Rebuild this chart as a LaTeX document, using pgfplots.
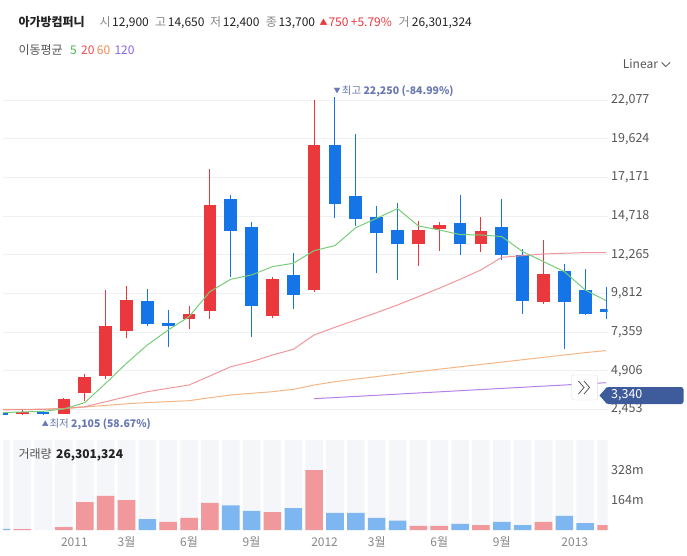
\documentclass[border=0pt]{standalone}
\usepackage{pgfplots}
\pgfplotsset{compat=1.18}
\usepackage{pgfplotstable}
\usepackage{fontspec}
\setmainfont{Noto Sans CJK KR}
\definecolor{cred}{RGB}{235,56,61}
\definecolor{cblue}{RGB}{22,117,230}
\definecolor{vred}{RGB}{240,152,156}
\definecolor{vblue}{RGB}{125,182,240}
\definecolor{stripe}{RGB}{245,246,250}
\definecolor{gridc}{RGB}{240,240,242}
\definecolor{tickc}{RGB}{85,85,85}
\definecolor{labc}{RGB}{136,136,136}
\definecolor{numc}{RGB}{34,34,34}
\definecolor{annc}{RGB}{105,120,178}
\definecolor{tagc}{RGB}{62,91,156}
\definecolor{boxc}{RGB}{220,220,224}
\definecolor{ma5}{RGB}{120,205,120}
\definecolor{ma20}{RGB}{240,140,145}
\definecolor{ma60}{RGB}{245,175,120}
\definecolor{ma120}{RGB}{180,130,235}
\definecolor{t5}{RGB}{80,180,80}
\definecolor{t20}{RGB}{230,80,80}
\definecolor{t60}{RGB}{240,140,80}
\definecolor{t120}{RGB}{140,100,230}

% up (red) candles: x open high low close
\pgfplotstableread{
x o h l c
1 2136 2410 2120 2300
3 2180 3150 2170 3110
4 3510 4700 2980 4505
5 4590 10006 4400 7743
6 7447 10282 6960 9393
9 8208 9013 7531 8505
10 8674 17688 8187 15424
13 8399 10875 8272 10726
15 10028 22089 9922 19232
20 12970 14387 11573 13837
21 13900 14324 12525 14154
23 12970 14683 12440 13773
26 9266 13202 9161 11044
}\upc
% down (blue) candles
\pgfplotstableread{
x o h l c
0 2240 2260 2100 2110
2 2300 2330 2105 2160
7 9330 10071 7722 7870
8 7933 8758 6431 7764
11 15805 16059 10875 13794
12 14028 14324 7024 9034
14 10980 12377 8822 9732
16 19232 22250 14577 15508
17 15995 19931 14091 14556
18 14662 15381 11086 13667
19 13837 15530 10663 12970
22 14281 16038 12271 12970
24 14028 15805 11933 12271
25 12229 12610 8526 9351
27 11234 11678 6304 9288
28 10028 11382 8441 8526
29 8843 10219 8166 8653
}\downc
% moving averages
\pgfplotstableread{
x ma5 ma20 ma60
0 2241 2420 2440
1 2284 2430 2450
2 2326 2450 2460
3 2474 2500 2500
4 2876 2618 2600
5 4104 2935 2700
6 5373 3253 2800
7 6537 3570 2880
8 7489 3786 2940
9 8335 3995 2999
10 9922 4567 3189
11 10705 5157 3361
12 10980 5474 3469
13 11509 5899 3570
14 11721 6261 3722
15 12525 7169 3995
16 12842 7658 4205
17 13985 8124 4370
18 14577 8589 4530
19 15191 9076 4690
20 14091 9605 4850
21 13837 10134 5000
22 13541 10705 5150
23 13520 11297 5300
24 13414 12102 5450
25 12461 12207 5600
26 11827 12313 5750
27 11192 12356 5900
28 10028 12398 6050
29 9351 12398 6180
}\mat
\pgfplotstableread{
x ma120
15 3126
16 3199
17 3271
18 3344
19 3416
20 3489
21 3561
22 3634
23 3706
24 3779
25 3851
26 3924
27 3996
28 4069
29 4141
}\matl
% volume (millions)
\pgfplotstableread{
x v
1 5
3 16
4 153
5 186
6 164
8 44
9 66
10 148
13 98
15 328
20 22
21 22
23 27
26 44
29 27
}\vup
\pgfplotstableread{
x v
0 6
7 60
11 135
12 104
14 120
16 93
17 93
18 66
19 51
22 33
24 44
25 27
27 77
28 38
}\vdown
\pgfplotstableread{
x v
0 492
1 492
2 492
3 492
4 492
5 492
6 492
7 492
8 492
9 492
10 492
11 492
12 492
13 492
14 492
15 492
16 492
17 492
18 492
19 492
20 492
21 492
22 492
23 492
24 492
25 492
26 492
27 492
28 492
29 492
}\vbg

\newcommand{\tf}{\fontsize{12.5}{14}\selectfont}
\newcommand{\hf}{\fontsize{12}{14}\selectfont}

\begin{document}
\begin{tikzpicture}[x=1pt,y=1pt]
\path[use as bounding box, fill=white] (0,0) rectangle (687,555);

% price panel
\begin{axis}[
  at={(3pt,125pt)}, anchor=south west,
  scale only axis, width=604.5pt, height=350pt,
  xmin=0.077, xmax=29.07, ymin=1139, ymax=23354,
  axis line style={draw=none}, tick style={draw=none},
  xtick=\empty,
  ytick={2453,4906,7359,9812,12265,14718,17171,19624,22077},
  ymajorgrids, grid style={draw=gridc, line width=0.8pt},
  yticklabel pos=right,
  scaled y ticks=false,
  yticklabel style={anchor=west, inner sep=0pt, xshift=3.5pt, font=\tf, text=tickc},
  /pgf/number format/fixed, /pgf/number format/precision=0,
  /pgf/number format/1000 sep={,}, /pgf/number format/assume math mode=true,
]
% wicks and bodies
\addplot[draw=none, mark=none, error bars/.cd, y dir=plus, y explicit, error mark=none,
  error bar style={line width=1pt, draw=cred}]
  table[x=x, y=l, y error expr=\thisrow{h}-\thisrow{l}] {\upc};
\addplot[draw=none, mark=none, error bars/.cd, y dir=plus, y explicit, error mark=none,
  error bar style={line width=12.7pt, draw=cred}]
  table[x=x, y=o, y error expr=\thisrow{c}-\thisrow{o}] {\upc};
\addplot[draw=none, mark=none, error bars/.cd, y dir=plus, y explicit, error mark=none,
  error bar style={line width=1pt, draw=cblue}]
  table[x=x, y=l, y error expr=\thisrow{h}-\thisrow{l}] {\downc};
\addplot[draw=none, mark=none, error bars/.cd, y dir=plus, y explicit, error mark=none,
  error bar style={line width=12.7pt, draw=cblue}]
  table[x=x, y=c, y error expr=\thisrow{o}-\thisrow{c}] {\downc};
% moving averages
\addplot[ma120, line width=1pt, mark=none] table[x=x, y=ma120] {\matl};
\addplot[ma60, line width=1pt, mark=none, opacity=0.9] table[x=x, y=ma60] {\mat};
\addplot[ma20, line width=1pt, mark=none, opacity=0.9] table[x=x, y=ma20] {\mat};
\addplot[ma5, line width=1pt, mark=none] table[x=x, y=ma5] {\mat};
\end{axis}

% volume panel
\begin{axis}[
  at={(3pt,25pt)}, anchor=south west,
  scale only axis, width=604.5pt, height=90pt,
  xmin=0.077, xmax=29.07, ymin=0, ymax=492,
  axis line style={draw=none}, tick style={draw=none},
  xtick={3.5,6,9,12,15.5,18,21,24,27.5},
  xticklabels={2011,3월,6월,9월,2012,3월,6월,9월,2013},
  xticklabel style={anchor=base, inner sep=0pt, yshift=-16.5pt, font=\hf, text=labc},
  ytick={164,328}, yticklabels={164m,328m},
  yticklabel pos=right,
  yticklabel style={anchor=west, inner sep=0pt, xshift=3.5pt, font=\tf, text=tickc},
]
\addplot[ybar, bar width=0.84, bar shift=0pt, fill=stripe, draw=none] table[x=x, y=v] {\vbg};
\addplot[ybar, bar width=0.84, bar shift=0pt, fill=vred, draw=none] table[x=x, y=v] {\vup};
\addplot[ybar, bar width=0.84, bar shift=0pt, fill=vblue, draw=none] table[x=x, y=v] {\vdown};
\end{axis}

% header line 1
\begin{scope}[every node/.style={anchor=base west, inner sep=0pt, font=\hf}]
\node[text=numc, font=\hf\bfseries] at (18.3,528.3) {아가방컴퍼니};
\node[text=labc] at (99.3,528.3) {시};
\node[text=numc] at (112,528.3) {12,900};
\node[text=labc] at (155,528.3) {고};
\node[text=numc] at (167.7,528.3) {14,650};
\node[text=labc] at (210,528.3) {저};
\node[text=numc] at (222.7,528.3) {12,400};
\node[text=labc] at (265.7,528.3) {종};
\node[text=numc] at (278.3,528.3) {13,700};
\node[text=cred, font=\fontsize{8}{9}\selectfont] at (319.3,529.5) {▲};
\node[text=cred] at (328.3,528.3) {750};
\node[text=cred] at (350.7,528.3) {+5.79\%};
\node[text=labc] at (398.3,528.3) {거};
\node[text=numc] at (411.7,528.3) {26,301,324};
% line 2
\node[text=tickc] at (18.3,500) {이동평균};
\node[text=t5] at (70,500) {5};
\node[text=t20] at (81,500) {20};
\node[text=t60] at (96.7,500) {60};
\node[text=t120] at (114.3,500) {120};
% Linear
\node[text=tickc] at (622.7,486.7) {Linear};
% annotations
\node[text=annc, font=\fontsize{7}{8}\selectfont] at (333.3,461) {▼};
\node[text=annc, font=\fontsize{10.5}{12}\selectfont] at (341.7,460) {최고};
\node[text=annc, font=\fontsize{10.5}{12}\selectfont\bfseries] at (363.3,460) {22,250 (-84.99\%)};
\node[text=annc, font=\fontsize{7}{8}\selectfont] at (41.7,128.3) {▲};
\node[text=annc, font=\fontsize{10.5}{12}\selectfont] at (49.3,127.3) {최저};
\node[text=annc, font=\fontsize{10.5}{12}\selectfont\bfseries] at (71,127.3) {2,105 (58.67\%)};
% volume label
\node[text=tickc] at (18.3,97) {거래량};
\node[text=numc, font=\hf\bfseries] at (56,97) {26,301,324};
\end{scope}
\draw[tickc, line width=0.8pt] (661.7,492.5) -- (665.8,488.5) -- (670,492.5);

% last value tag
\fill[tagc, rounded corners=2.5pt] (606,168) -- (683.5,168) -- (683.5,151) -- (606,151) -- cycle;
\fill[tagc] (599.5,159.5) -- (607,168) -- (607,151) -- cycle;
\node[anchor=west, inner sep=0pt, text=white, font=\tf] at (611,159.5) {3,340};

% scroll button
\draw[fill=white, draw=boxc, rounded corners=2pt] (571.7,155) rectangle (597.3,180);
\draw[tickc, line width=0.8pt] (578.5,174) -- (584,167.5) -- (578.5,161);
\draw[tickc, line width=0.8pt] (584,174) -- (589.5,167.5) -- (584,161);
\end{tikzpicture}
\end{document}
